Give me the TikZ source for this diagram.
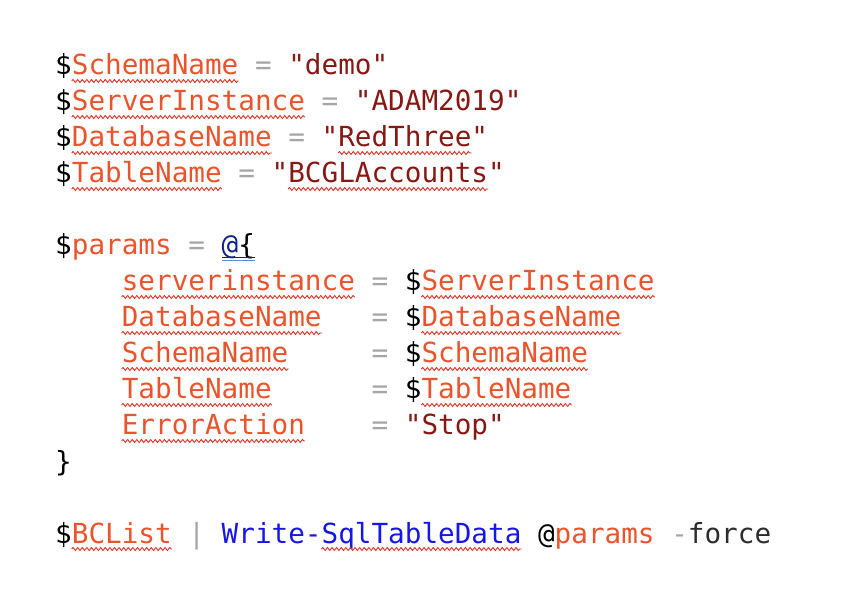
\documentclass[tikz,border=0pt]{standalone}
\usepackage{fontspec}
\setmonofont{DejaVu Sans Mono}
\usepackage{tikz}
\usetikzlibrary{decorations.pathmorphing}

\definecolor{varcol}{RGB}{233,84,44}
\definecolor{strcol}{RGB}{135,24,20}
\definecolor{opcol}{RGB}{165,165,165}
\definecolor{cmdcol}{RGB}{22,22,232}
\definecolor{navycol}{RGB}{15,35,140}
\definecolor{linecol}{RGB}{90,140,225}
\definecolor{wavycol}{RGB}{222,52,40}
\definecolor{darkcol}{RGB}{45,45,45}

\begin{document}
\begin{tikzpicture}[x=16.65pt, y=-36pt,
  tok/.style={inner sep=0pt, anchor=base west, text=black,
    font=\ttfamily\fontsize{27.66pt}{36pt}\selectfont},
  var/.style={tok, text=varcol},
  str/.style={tok, text=strcol},
  op/.style={tok, text=opcol},
  cmd/.style={tok, text=cmdcol},
  wavy/.style={draw=wavycol, line width=0.9pt, decorate,
    decoration={snake, segment length=4.6pt, amplitude=1.5pt}}]
  \useasboundingbox (0pt,0pt) rectangle (860pt,-612pt);

  \begin{scope}[shift={(55pt,-75pt)}]
    % Variablen
    \node[tok] (d0) at (0,0) {\$};
    \node[var] (schema) at (1,0) {SchemaName};
    \node[op] (eq0) at (12,0) {=};
    \node[str] (demo) at (14,0) {"demo"};

    \node[tok] (d1) at (0,1) {\$};
    \node[var] (server) at (1,1) {ServerInstance};
    \node[op] (eq1) at (16,1) {=};
    \node[str] (adam) at (18,1) {"ADAM2019"};

    \node[tok] (d2) at (0,2) {\$};
    \node[var] (dbname) at (1,2) {DatabaseName};
    \node[op] (eq2) at (14,2) {=};
    \node[str] (q2a) at (16,2) {"};
    \node[str] (redthree) at (17,2) {RedThree};
    \node[str] (q2b) at (25,2) {"};

    \node[tok] (d3) at (0,3) {\$};
    \node[var] (tblname) at (1,3) {TableName};
    \node[op] (eq3) at (11,3) {=};
    \node[str] (q3a) at (13,3) {"};
    \node[str] (bcgl) at (14,3) {BCGLAccounts};
    \node[str] (q3b) at (26,3) {"};

    % Parameter
    \node[tok] (d5) at (0,5) {\$};
    \node[var] (params) at (1,5) {params};
    \node[op] (eq5) at (8,5) {=};
    \node[tok, text=navycol] (at) at (10,5) {@};
    \node[tok] (lbrace) at (11,5) {\{};
    \draw[navycol, line width=0.9pt] ([yshift=-2pt]at.base west) -- ([yshift=-2pt]lbrace.base east);
    \draw[linecol, line width=1pt] ([yshift=-5.5pt]at.base west) -- ([yshift=-5.5pt]lbrace.base east);

    \foreach \k/\v [count=\i from 6] in {serverinstance/ServerInstance,
        DatabaseName/DatabaseName, SchemaName/SchemaName, TableName/TableName} {
      \node[var] (k\i) at (4,\i) {\k};
      \node[op] (e\i) at (19,\i) {=};
      \node[tok] (s\i) at (21,\i) {\$};
      \node[var] (v\i) at (22,\i) {\v};
      \draw[wavy] ([yshift=-6pt]k\i.base west) -- ([yshift=-6pt]k\i.base east);
      \draw[wavy] ([yshift=-6pt]v\i.base west) -- ([yshift=-6pt]v\i.base east);
    }
    \node[var] (k10) at (4,10) {ErrorAction};
    \node[op] (e10) at (19,10) {=};
    \node[str] (stop) at (21,10) {"Stop"};
    \node[tok] (rbrace) at (0,11) {\}};

    % Aufruf
    \node[tok] (d13) at (0,13) {\$};
    \node[var] (bclist) at (1,13) {BCList};
    \node[op] (pipe) at (8,13) {|};
    \node[cmd] (write) at (10,13) {Write-};
    \node[cmd] (sqlcmd) at (16,13) {SqlTableData};
    \node[tok] (at2) at (29,13) {@};
    \node[var] (params2) at (30,13) {params};
    \node[op] (dash) at (37,13) {-};
    \node[tok, text=darkcol] (force) at (38,13) {force};

    \foreach \w in {schema, server, dbname, redthree, tblname, bcgl, k10, bclist, sqlcmd}
      \draw[wavy] ([yshift=-6pt]\w.base west) -- ([yshift=-6pt]\w.base east);
  \end{scope}
\end{tikzpicture}
\end{document}
